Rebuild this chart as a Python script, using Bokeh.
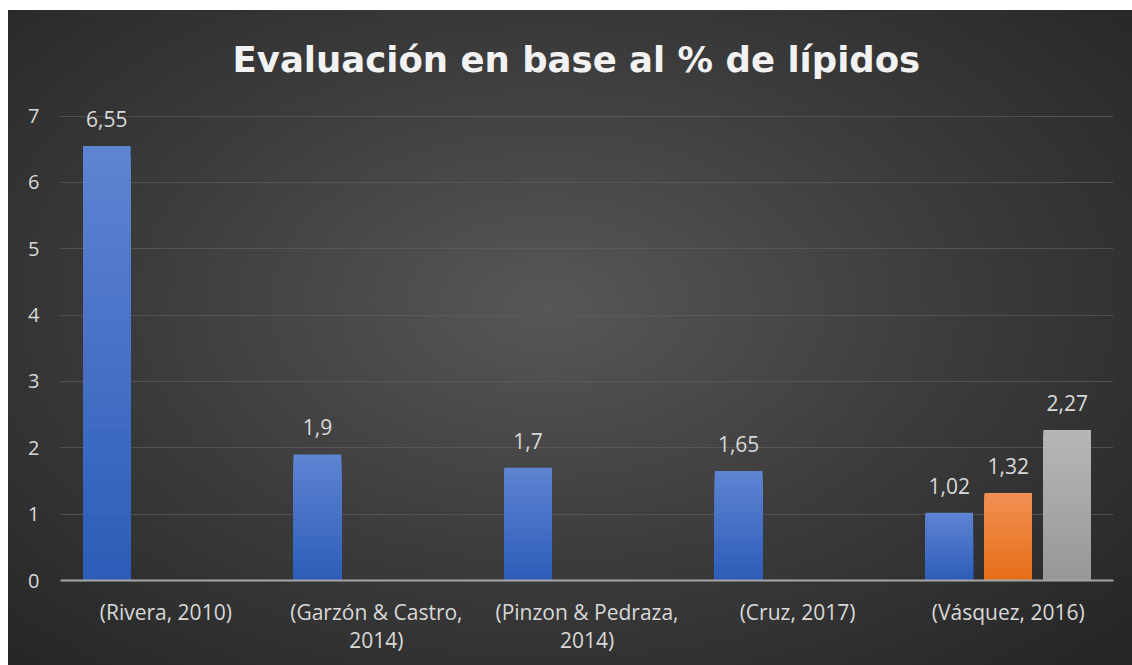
from bokeh.plotting import figure
from bokeh.models import FactorRange, Range1d, Title, ColumnDataSource, FixedTicker
from bokeh.transform import dodge
from bokeh.core.properties import value
from bokeh.embed import file_html
from bokeh.resources import INLINE

categories = ["(Rivera, 2010)", "(Garzón & Castro,\n2014)", "(Pinzon & Pedraza,\n2014)", "(Cruz, 2017)", "(Vásquez, 2016)"]
serie1 = [6.55, 1.9, 1.7, 1.65, 1.02]
serie2 = [None, None, None, None, 1.32]
serie3 = [None, None, None, None, 2.27]
y_ticks = [0, 1, 2, 3, 4, 5, 6, 7]

series = [
    (serie1, -0.28, (94, 132, 210), (45, 93, 185)),
    (serie2, 0.0, (242, 143, 82), (230, 110, 25)),
    (serie3, 0.28, (182, 182, 182), (152, 152, 152)),
]

p = figure(width=1124, height=655, x_range=FactorRange(*categories), y_range=Range1d(0, 7.25),
           output_backend="svg", toolbar_location=None,
           min_border_left=52, min_border_right=19, min_border_top=89, min_border_bottom=85)
p.x_range.range_padding = 0
p.border_fill_alpha = 0
p.background_fill_alpha = 0
p.outline_line_color = None
p.styles = {"margin-top": "10px", "margin-left": "8px",
            "background-image": "radial-gradient(ellipse 70% 75% at 48% 45%, #575757 0%, #3a3a3a 55%, #262626 100%)"}

p.title = Title(text="Evaluación en base al % de lípidos", align="left", text_font="DejaVu Sans",
                text_font_size="35.5px", text_font_style="bold", text_color="#f2f2f2", standoff=40, offset=172)

N = 40
for vals, off, top_c, bot_c in series:
    cats, vs = [], []
    for c, v in zip(categories, vals):
        if v is not None:
            cats.append(c)
            vs.append(v)
    if not cats:
        continue
    for i in range(N):
        f = 1 - i / N
        t = i / (N - 1)
        col = tuple(int(round(top_c[k] * (1 - t) + bot_c[k] * t)) for k in range(3))
        src = ColumnDataSource(dict(x=cats, top=[v * f for v in vs]))
        p.vbar(x=dodge("x", off, range=p.x_range), top="top", bottom=0, width=0.226, source=src,
               fill_color="#%02x%02x%02x" % col, line_color=None)
    lsrc = ColumnDataSource(dict(x=cats, y=vs, t=[("%g" % v).replace(".", ",") for v in vs]))
    p.text(x=dodge("x", off, range=p.x_range), y="y", text="t", source=lsrc, y_offset=-19,
           text_align="center", text_baseline="bottom", text_color="#d9d9d9",
           text_font=value("Open Sans"), text_font_size="21px")

p.yaxis.ticker = FixedTicker(ticks=y_ticks)
p.yaxis.axis_line_color = None
p.yaxis.major_tick_line_color = None
p.yaxis.minor_tick_line_color = None
p.yaxis.major_label_standoff = 15
p.yaxis.major_label_text_color = "#d9d9d9"
p.yaxis.major_label_text_font = "Open Sans"
p.yaxis.major_label_text_font_size = "20px"

p.xaxis.axis_line_color = "#a6a6a6"
p.xaxis.axis_line_width = 2
p.xaxis.major_tick_line_color = None
p.xaxis.minor_tick_line_color = None
p.xaxis.major_label_standoff = 11
p.xaxis.major_label_text_color = "#d9d9d9"
p.xaxis.major_label_text_font = "Open Sans"
p.xaxis.major_label_text_font_size = "21px"
p.xaxis.major_label_text_line_height = 1.0

p.xgrid.grid_line_color = None
p.ygrid.grid_line_color = "#5e5e5e"
p.ygrid.grid_line_alpha = 0.7
p.ygrid.ticker = FixedTicker(ticks=y_ticks)

open("out.html", "w").write(file_html(p, INLINE))
